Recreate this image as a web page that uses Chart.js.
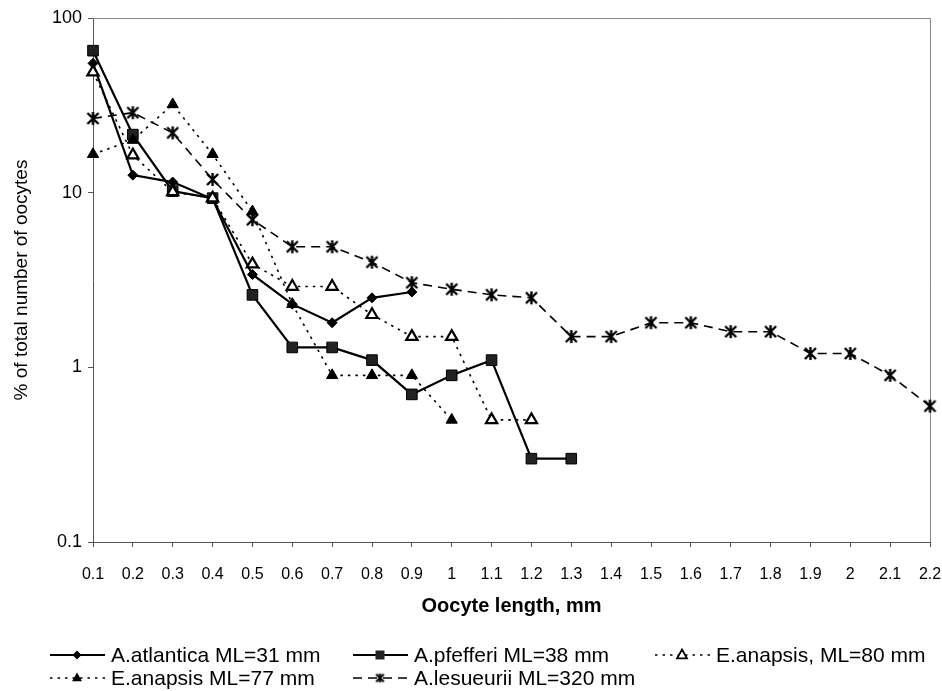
<!DOCTYPE html>
<html>
<head>
<meta charset="utf-8">
<script src="https://cdn.jsdelivr.net/npm/chart.js@4/dist/chart.umd.min.js"></script>
<style>
  html, body { margin: 0; padding: 0; background: #fff; }
  #wrap { width: 942px; height: 691px; }
</style>
</head>
<body>
<div id="wrap"><canvas id="c" width="942" height="691"></canvas></div>
<script>
// ---- data ----
const xLabels = ['0.1','0.2','0.3','0.4','0.5','0.6','0.7','0.8','0.9','1','1.1','1.2','1.3','1.4','1.5','1.6','1.7','1.8','1.9','2','2.1','2.2'];
const yTicks = [0.1, 1, 10, 100];
const yTickLabels = ['0.1', '1', '10', '100'];

const seriesNames = ['A.atlantica ML=31 mm', 'A.pfefferi ML=38 mm', 'E.anapsis, ML=80 mm', 'E.anapsis ML=77 mm', 'A.lesueurii ML=320 mm'];
const atlantica = [55, 12.6, 11.5, 9.2, 3.4, 2.3, 1.8, 2.5, 2.7];
const pfefferi  = [65, 21.5, 10.2, 9.3, 2.6, 1.3, 1.3, 1.1, 0.7, 0.9, 1.1, 0.3, 0.3];
const anapsis80 = [49, 16.4, 10.1, 9.3, 3.9, 2.9, 2.9, 2.0, 1.5, 1.5, 0.5, 0.5];
const anapsis77 = [16.6, 20, 32, 16.6, 7.8, 2.3, 0.9, 0.9, 0.9, 0.5];
const lesueurii = [26.6, 28.7, 22, 11.9, 7.0, 4.9, 4.9, 4.0, 3.05, 2.8, 2.6, 2.5, 1.5, 1.5, 1.8, 1.8, 1.6, 1.6, 1.2, 1.2, 0.9, 0.6];

// ---- asterisk marker image ----
function makeAsterisk(size, lw) {
  const c = document.createElement('canvas');
  c.width = size; c.height = size;
  const g = c.getContext('2d');
  const m = size / 2, r = size / 2 - 1;
  g.strokeStyle = '#000'; g.lineWidth = lw; g.lineCap = 'butt';
  g.beginPath();
  g.moveTo(m - r * 0.85, m - r * 0.85); g.lineTo(m + r * 0.85, m + r * 0.85);
  g.moveTo(m + r * 0.85, m - r * 0.85); g.lineTo(m - r * 0.85, m + r * 0.85);
  g.moveTo(m, m - r); g.lineTo(m, m + r);
  g.stroke();
  return c;
}
const asterisk = makeAsterisk(15, 2.4);
const asteriskSmall = makeAsterisk(11, 2);

const FONT = "'Liberation Sans', Arial, sans-serif";

const styles = [
  { borderDash: [], borderWidth: 2.2, pointStyle: 'rectRot', pointRadius: 5, bg: '#000', pb: '#000', pbw: 1 },
  { borderDash: [], borderWidth: 2.2, pointStyle: 'rect', pointRadius: 7.5, bg: '#222', pb: '#000', pbw: 1 },
  { borderDash: [2.5, 5], borderWidth: 1.6, pointStyle: 'triangle', pointRadius: 6.5, bg: '#fff', pb: '#000', pbw: 2.2 },
  { borderDash: [2.5, 5], borderWidth: 1.6, pointStyle: 'triangle', pointRadius: 6.5, bg: '#000', pb: '#000', pbw: 1 },
  { borderDash: [9, 6], borderWidth: 1.6, pointStyle: asterisk, pointRadius: 7, bg: '#000', pb: '#000', pbw: 1 }
];
const dataArrays = [atlantica, pfefferi, anapsis80, anapsis77, lesueurii];

const datasets = dataArrays.map((d, i) => ({
  label: seriesNames[i],
  data: d,
  borderColor: '#000',
  borderWidth: styles[i].borderWidth,
  borderDash: styles[i].borderDash,
  pointStyle: styles[i].pointStyle,
  pointRadius: styles[i].pointRadius,
  pointBackgroundColor: styles[i].bg,
  pointBorderColor: styles[i].pb,
  pointBorderWidth: styles[i].pbw,
  tension: 0,
  fill: false,
  spanGaps: false,
  order: 5 - i
}));

// ---- legend plugin (two rows, Excel style) ----
function drawMarker(ctx, kind, x, y) {
  ctx.save();
  ctx.setLineDash([]);
  ctx.fillStyle = '#000'; ctx.strokeStyle = '#000';
  if (kind === 0) {
    const r = 4.5;
    ctx.beginPath(); ctx.moveTo(x - r, y); ctx.lineTo(x, y - r); ctx.lineTo(x + r, y); ctx.lineTo(x, y + r); ctx.closePath(); ctx.fill();
  } else if (kind === 1) {
    ctx.fillStyle = '#222'; ctx.fillRect(x - 4.5, y - 4.5, 9, 9);
  } else if (kind === 2 || kind === 3) {
    const r = 5.5;
    ctx.beginPath();
    ctx.moveTo(x, y - r); ctx.lineTo(x + r * 0.9, y + r * 0.6); ctx.lineTo(x - r * 0.9, y + r * 0.6); ctx.closePath();
    if (kind === 3) { ctx.fill(); } else { ctx.fillStyle = '#fff'; ctx.fill(); ctx.lineWidth = 1.8; ctx.stroke(); }
  } else {
    ctx.drawImage(asteriskSmall, x - 5.5, y - 5.5);
  }
  ctx.restore();
}
const legendPlugin = {
  id: 'excelLegend',
  afterDraw(chart) {
    const ctx = chart.ctx;
    const cols = [50, 353, 655];
    const rows = [655, 678];
    ctx.save();
    seriesNames.forEach((name, i) => {
      const x0 = cols[i % 3], y = rows[Math.floor(i / 3)];
      ctx.strokeStyle = '#000';
      ctx.lineWidth = styles[i].borderWidth;
      ctx.setLineDash(styles[i].borderDash);
      ctx.beginPath(); ctx.moveTo(x0, y); ctx.lineTo(x0 + 55, y); ctx.stroke();
      drawMarker(ctx, i, x0 + 27, y);
      ctx.setLineDash([]);
      ctx.fillStyle = '#000';
      ctx.font = '21px ' + FONT;
      ctx.textBaseline = 'middle';
      ctx.textAlign = 'left';
      ctx.fillText(name, x0 + 61, y + 1);
    });
    ctx.restore();
  }
};
// frame on top and right of plot area
const framePlugin = {
  id: 'frame',
  beforeDatasetsDraw(chart) {
    const a = chart.chartArea, ctx = chart.ctx;
    ctx.save();
    ctx.strokeStyle = '#888'; ctx.lineWidth = 1;
    ctx.beginPath();
    ctx.moveTo(a.left, a.top + 0.5); ctx.lineTo(a.right + 0.5, a.top + 0.5); ctx.lineTo(a.right + 0.5, a.bottom);
    ctx.stroke();
    ctx.restore();
  }
};

new Chart(document.getElementById('c'), {
  type: 'line',
  data: { labels: xLabels, datasets },
  plugins: [legendPlugin, framePlugin],
  options: {
    responsive: false,
    animation: false,
    layout: { padding: { left: 0, right: 12, top: 18, bottom: 69 } },
    plugins: { legend: { display: false }, tooltip: { enabled: false } },
    scales: {
      x: {
        type: 'category',
        offset: false,
        grid: { display: true, drawOnChartArea: false, drawTicks: true, tickLength: 5, color: '#555', offset: false },
        border: { display: true, color: '#555', width: 1 },
        ticks: { color: '#000', font: { family: FONT, size: 16 }, padding: 18, maxRotation: 0, autoSkip: false },
        title: { display: true, text: 'Oocyte length, mm', color: '#000', font: { family: FONT, size: 20, weight: 'bold' }, padding: { top: 0, bottom: 4 } },
        afterFit(s) { s.height = 80; s.paddingLeft = 0; s.paddingRight = 0; }
      },
      y: {
        type: 'logarithmic',
        min: 0.1, max: 100,
        grid: { display: true, drawOnChartArea: false, drawTicks: true, tickLength: 5, color: '#555' },
        border: { display: true, color: '#555', width: 1 },
        afterBuildTicks(s) { s.ticks = yTicks.map(v => ({ value: v })); },
        ticks: {
          color: '#000', font: { family: FONT, size: 18 }, padding: 6,
          callback(v) { const k = yTicks.indexOf(v); return k >= 0 ? yTickLabels[k] : ''; }
        },
        title: { display: true, text: '% of total number of oocytes', color: '#000', font: { family: FONT, size: 19 }, padding: { top: 10, bottom: 0 } },
        afterFit(s) { s.width = 93; s.paddingTop = 0; s.paddingBottom = 0; }
      }
    }
  }
});
</script>
</body>
</html>
